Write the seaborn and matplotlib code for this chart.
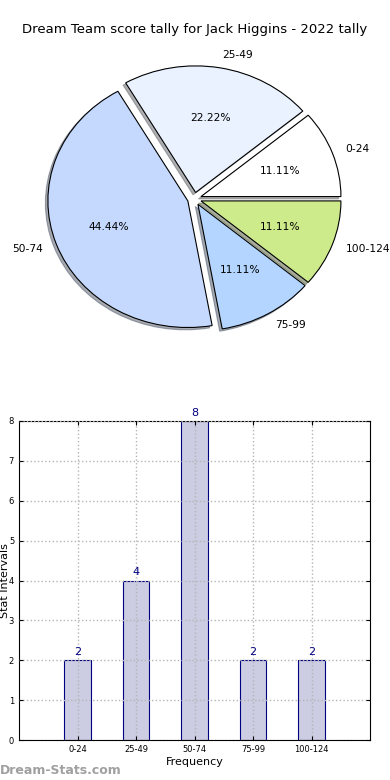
import matplotlib
matplotlib.use("Agg")
import matplotlib.pyplot as plt
import seaborn as sns
import pandas as pd

title = "Dream Team score tally for Jack Higgins - 2022 tally"
categories = ["0-24", "25-49", "50-74", "75-99", "100-124"]
counts = [2, 4, 8, 2, 2]
pie_colors = ["#ffffff", "#eaf2ff", "#c5d9ff", "#b3d5ff", "#cdeb8b"]

sns.set_style("white")
plt.rcParams['font.family'] = ['DejaVu Sans']
plt.rcParams['text.color'] = 'black'
plt.rcParams['axes.labelcolor'] = 'black'
plt.rcParams['xtick.color'] = 'black'
plt.rcParams['ytick.color'] = 'black'

fig = plt.figure(figsize=(3.9, 7.8), dpi=100)

# Pie
axp = fig.add_axes([0.05, 0.5423, 0.897, 0.4058])
wedges, texts, autotexts = axp.pie(
    counts, labels=categories, colors=pie_colors, explode=[0.05] * 5,
    autopct="%1.2f%%", startangle=0,
    shadow={'ox': -0.013, 'oy': -0.013, 'shade': 0.6},
    wedgeprops=dict(edgecolor="black", linewidth=0.8),
    textprops=dict(fontsize=7.7, color="black"))
axp.set_aspect("auto")
axp.set_xlim(-1.25, 1.25)
axp.set_ylim(-1.25, 1.25)
axp.axis("off")
fig.text(0.5, 1 - 30 / 780, title, ha="center", va="center", fontsize=9.5)

# Bars
axb = fig.add_axes([19 / 390, 40 / 780, 351 / 390, 319 / 780])
df = pd.DataFrame({"cat": categories, "count": counts})
sns.barplot(data=df, x="cat", y="count", ax=axb, width=0.45,
            color="#ccccE3", edgecolor="#000080", linewidth=0.8,
            saturation=1)
for i, v in enumerate(counts):
    axb.text(i, v + 0.08, str(v), ha="center", va="bottom",
             color="#000080", fontsize=8)
axb.set_xlim(-1, 5)
axb.set_ylim(0, 8)
axb.set_yticks(range(0, 9))
axb.grid(True, linestyle=":", color="#b5b5b5", linewidth=1.0)
axb.set_axisbelow(False)
for sp in axb.spines.values():
    sp.set_visible(True)
    sp.set_color("black")
    sp.set_linewidth(0.8)
axb.tick_params(axis="both", labelsize=6, direction="in", length=3,
                top=True, right=True, bottom=True, left=True)
axb.set_xlabel("Frequency", fontsize=8, labelpad=2)
axb.set_ylabel("Stat Intervals", fontsize=8)
axb.yaxis.set_label_coords(-0.027, 0.5)

fig.text(0.0, 1 - 771 / 780, "Dream-Stats.com", ha="left", va="center",
         fontsize=9, color="#a0a0a0", fontweight="bold")

fig.savefig("out.png", dpi=100)
